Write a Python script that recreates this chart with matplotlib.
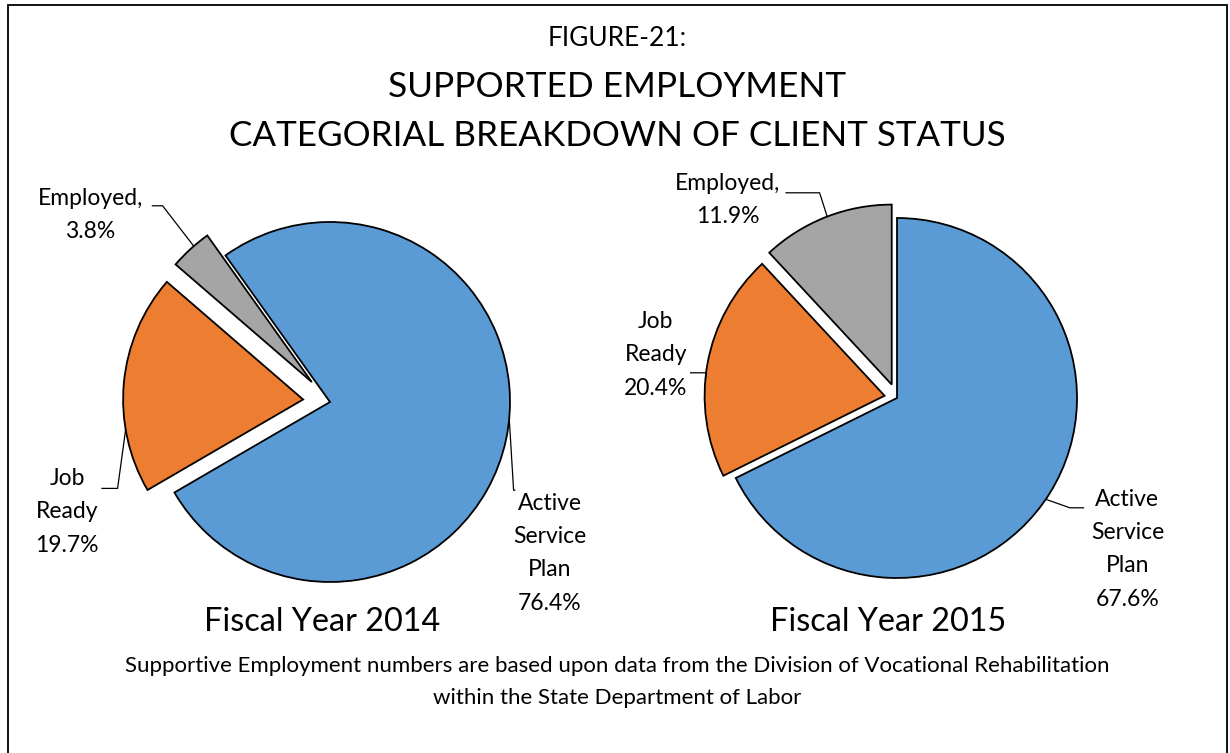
import numpy as np
import matplotlib
matplotlib.use("Agg")
import matplotlib.pyplot as plt
from matplotlib.patches import Rectangle

plt.rcParams['font.family'] = ['Lato', 'DejaVu Sans']

# data
categories = ["Active Service Plan", "Job Ready", "Employed"]
fy2014 = [76.4, 19.7, 3.8]
fy2015 = [67.6, 20.4, 11.9]
colors = ["#5B9BD5", "#ED7D31", "#A5A5A5"]

W, H = 1230, 753
fig = plt.figure(figsize=(W / 100, H / 100), dpi=100)

# outer frame
fig.patches.append(Rectangle((8 / W, -0.01), (1227 - 8) / W, (H - 5) / H + 0.01,
                             transform=fig.transFigure, fill=False,
                             edgecolor="black", linewidth=1.3))

fig.text(617 / W, 1 - 39 / H, "FIGURE-21:", ha="center", va="center", fontsize=19)
fig.text(617 / W, 1 - 87 / H, "SUPPORTED EMPLOYMENT", ha="center", va="center", fontsize=25.4)
fig.text(617 / W, 1 - 136 / H, "CATEGORIAL BREAKDOWN OF CLIENT STATUS", ha="center",
         va="center", fontsize=25.2)

R = 180.0  # pixel radius
LIM = 1.6


def make_ax(cx, cy):
    size = 2 * LIM * R
    ax = fig.add_axes([(cx - size / 2) / W, (H - cy - size / 2) / H, size / W, size / H])
    return ax


def wedge_angles(vals, start):
    tot = sum(vals)
    c = np.cumsum([0] + list(vals)) / tot
    return [(start - c[i] * 360, start - c[i + 1] * 360) for i in range(len(vals))]


def arc_point(vals, start, explode, idx, frac):
    a0, a1 = wedge_angles(vals, start)[idx]
    mid = np.radians((a0 + a1) / 2)
    t = np.radians(a0 + (a1 - a0) * frac)
    ox, oy = explode[idx] * np.cos(mid), explode[idx] * np.sin(mid)
    return ox + np.cos(t), oy + np.sin(t)


def leader(ax, p_end, elbow, start):
    ax.plot([start[0], elbow[0], p_end[0]], [start[1], elbow[1], p_end[1]],
            color="black", linewidth=0.9, solid_capstyle="butt")


def draw_pie(ax, vals, start, explode, label_pos, leaders):
    ax.pie(vals, colors=colors, startangle=start, counterclock=False, explode=explode,
           radius=1, wedgeprops=dict(edgecolor="black", linewidth=1.3))
    texts = [
        "Active\nService\nPlan\n{:.1f}%".format(vals[0]),
        "Job\nReady\n{:.1f}%".format(vals[1]),
        "Employed,\n{:.1f}%".format(vals[2]),
    ]
    for i, (t, (x, y)) in enumerate(zip(texts, label_pos)):
        ax.text(x, y, t, ha="center", va="center", fontsize=16.5, linespacing=1.72)
    for i, (frac, elbow, st) in enumerate(leaders):
        p = arc_point(vals, start, explode, i, frac)
        leader(ax, p, elbow, st)
    ax.set_xlim(-LIM, LIM)
    ax.set_ylim(-LIM, LIM)
    ax.set_aspect("equal")
    ax.axis("off")


# Fiscal Year 2014
ax1 = make_ax(330, 402)
exp1 = [0, 0.15, 0.15]
draw_pie(ax1, fy2014, 125.5, exp1,
         [(1.22, -0.84), (-1.46, -0.61), (-1.33, 1.04)],
         [(0.475, (1.02, -0.49), (1.03, -0.49)),
          (0.29, (-1.18, -0.48), (-1.27, -0.48)),
          (0.6, (-0.93, 1.09), (-0.99, 1.09))])

# Fiscal Year 2015
ax2 = make_ax(897, 398)
exp2 = [0, 0.07, 0.08]
draw_pie(ax2, fy2015, 90, exp2,
         [(1.28, -0.84), (-1.34, 0.24), (-0.94, 1.10)],
         [(0.51, (0.96, -0.61), (1.04, -0.61)),
          (0.43, (-1.06, 0.14), (-1.15, 0.14)),
          (0.51, (-0.43, 1.14), (-0.62, 1.14))])

fig.text(322 / W, 1 - 622 / H, "Fiscal Year 2014", ha="center", va="center", fontsize=23.3)
fig.text(888 / W, 1 - 622 / H, "Fiscal Year 2015", ha="center", va="center", fontsize=23.3)

fig.text(617 / W, 1 - 666 / H,
         "Supportive Employment numbers are based upon data from the Division of Vocational Rehabilitation",
         ha="center", va="center", fontsize=16)
fig.text(617 / W, 1 - 698 / H, "within the State Department of Labor",
         ha="center", va="center", fontsize=16)

fig.savefig("out.png", dpi=100)
